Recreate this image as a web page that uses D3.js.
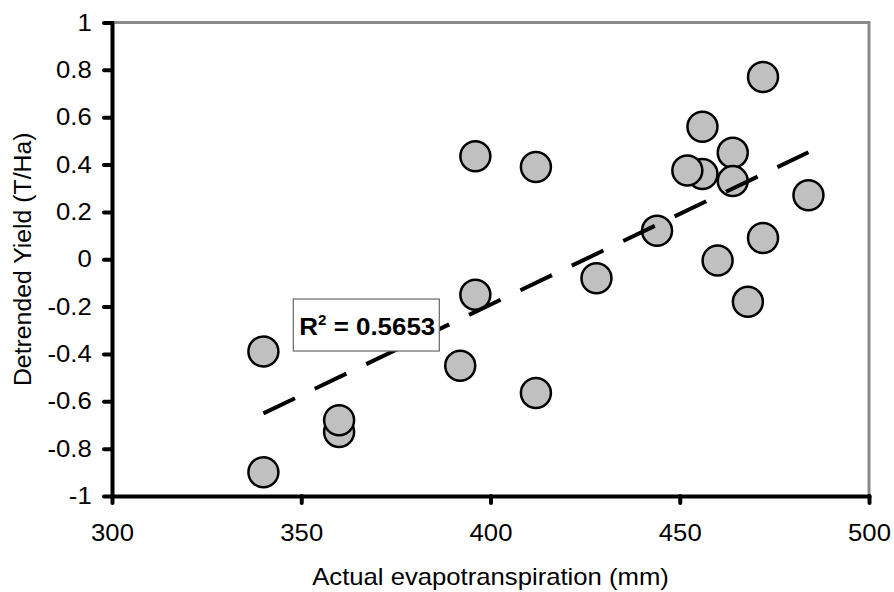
<!DOCTYPE html>
<html>
<head>
<meta charset="utf-8">
<script src="https://cdn.jsdelivr.net/npm/d3@7"></script>
<style>
  body { margin: 0; background: #fff; }
  svg { display: block; font-family: "Liberation Sans", Arial, sans-serif; }
</style>
</head>
<body>
<div class="chart"></div>
<script>
// Values
const evapotranspiration = [340, 340, 360, 360, 392, 396, 396, 412, 412, 428, 444,
                            456, 452, 456, 460, 464, 464, 468, 472, 472, 484];
const detrendedYield = [-0.39, -0.90, -0.73, -0.68, -0.45, 0.435, -0.15, 0.39, -0.565, -0.08, 0.12,
                        0.36, 0.375, 0.56, -0.005, 0.45, 0.33, -0.18, 0.77, 0.09, 0.27];
const xTicks = [300, 350, 400, 450, 500];
const yTicks = [-1, -0.8, -0.6, -0.4, -0.2, 0, 0.2, 0.4, 0.6, 0.8, 1];
const xLabel = "Actual evapotranspiration (mm)";
const yLabel = "Detrended Yield (T/Ha)";
const r2Value = "0.5653";

const points = evapotranspiration.map((x, i) => ({ x, y: detrendedYield[i] }));

// Chart dimensions
const width = 894, height = 592;
const margin = { top: 22.5, right: 25, bottom: 96, left: 112 };
const stretch = 1.07; // the reference text is slightly wider than plain Arial

const svg = d3.select(".chart")
    .append("svg")
    .attr("width", width)
    .attr("height", height);

const xScale = d3.scaleLinear()
    .domain([300, 500])
    .range([margin.left, width - margin.right]);

const yScale = d3.scaleLinear()
    .domain([-1, 1])
    .range([height - margin.bottom, margin.top]);

// grey frame on top and right
svg.append("path")
    .attr("d", `M${xScale(300)},${yScale(1)}H${xScale(500)}V${yScale(-1)}`)
    .attr("fill", "none")
    .attr("stroke", "#8a8a8a")
    .attr("stroke-width", 3);

// Points
svg.selectAll(".dot")
    .data(points)
    .enter()
    .append("circle")
    .attr("class", "dot")
    .attr("cx", d => xScale(d.x))
    .attr("cy", d => yScale(d.y))
    .attr("r", 15)
    .attr("fill", "#c0c0c0")
    .attr("stroke", "#000")
    .attr("stroke-width", 2.5);

// Linear trend line (least squares)
const mx = d3.mean(points, d => d.x);
const my = d3.mean(points, d => d.y);
const slope = d3.sum(points, d => (d.x - mx) * (d.y - my)) / d3.sum(points, d => (d.x - mx) ** 2);
const intercept = my - slope * mx;
const xExtent = d3.extent(points, d => d.x);

svg.append("path")
    .datum(xExtent.map(x => ({ x, y: intercept + slope * x })))
    .attr("d", d3.line().x(d => xScale(d.x)).y(d => yScale(d.y)))
    .attr("fill", "none")
    .attr("stroke", "#000")
    .attr("stroke-width", 4)
    .attr("stroke-dasharray", "35,22");

// Axes
const xAxis = svg.append("g")
    .attr("transform", `translate(0,${yScale(-1)})`)
    .call(d3.axisBottom(xScale).tickValues(xTicks).tickSize(7).tickSizeOuter(0).tickPadding(21).tickFormat(d => String(d)));

const yAxis = svg.append("g")
    .attr("transform", `translate(${xScale(300)},0)`)
    .call(d3.axisLeft(yScale).tickValues(yTicks).tickSize(8).tickSizeOuter(0).tickPadding(11).tickFormat(d => String(d)));

[xAxis, yAxis].forEach(g => {
    g.select(".domain").attr("stroke-width", 4).attr("stroke-linecap", "round");
    g.selectAll(".tick line").attr("stroke-width", 4).attr("stroke-linecap", "round");
    g.selectAll(".tick text").attr("font-size", 24).attr("fill", "#000")
        .attr("font-family", "Liberation Sans, Arial, sans-serif")
        .attr("transform", `scale(${stretch},1)`);
});

// Axis titles
svg.append("text")
    .attr("transform", `translate(${(xScale(300) + xScale(500)) / 2},585) scale(${stretch},1)`)
    .attr("text-anchor", "middle")
    .attr("font-size", 24)
    .text(xLabel);

svg.append("text")
    .attr("transform", `translate(31,${(yScale(1) + yScale(-1)) / 2}) rotate(-90)`)
    .attr("text-anchor", "middle")
    .attr("font-size", 24.8)
    .text(yLabel);

// R squared label box
const boxX = xScale(347.9), boxY = yScale(-0.168);
svg.append("rect")
    .attr("x", boxX)
    .attr("y", boxY)
    .attr("width", 146)
    .attr("height", 52)
    .attr("fill", "#fff")
    .attr("stroke", "#666")
    .attr("stroke-width", 1.2);

const r2Text = svg.append("text")
    .attr("transform", `translate(${boxX + 6},${boxY + 36}) scale(1.08,1)`)
    .attr("font-size", 24)
    .attr("font-weight", "bold");
r2Text.append("tspan").text("R");
r2Text.append("tspan").attr("font-size", 14).attr("dy", -10).text("2");
r2Text.append("tspan").attr("dy", 10).text(" = " + r2Value);
</script>
</body>
</html>
